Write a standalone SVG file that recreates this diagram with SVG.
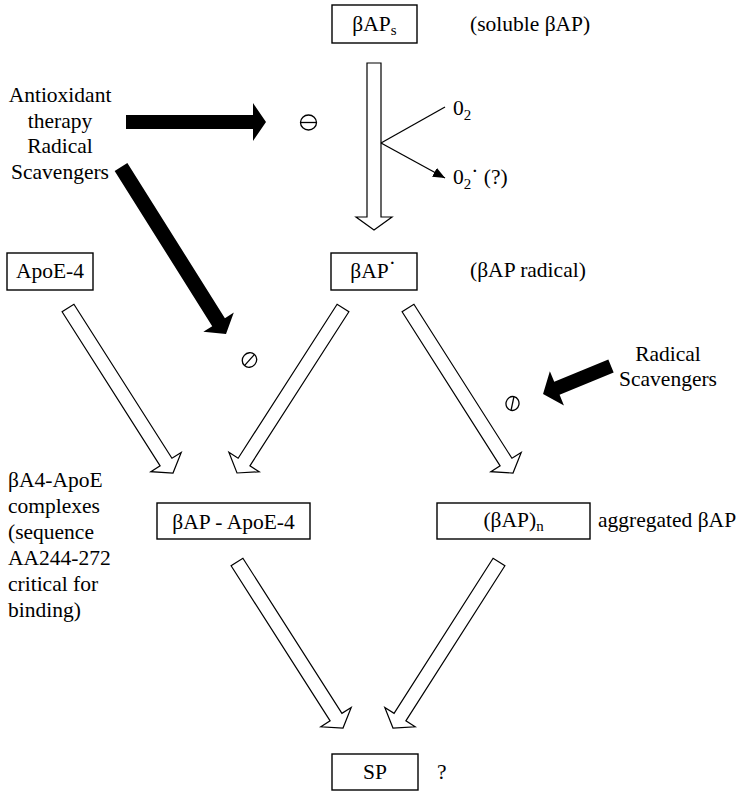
<svg xmlns="http://www.w3.org/2000/svg" width="740" height="791" viewBox="0 0 740 791">
<style>
text{font-family:"Liberation Serif","DejaVu Serif","Times New Roman",serif;font-size:21.5px;fill:#000}
.box{fill:#fff;stroke:#000;stroke-width:1.4}
.hollow{fill:#fff;stroke:#000;stroke-width:1.2;stroke-linejoin:miter}
.solid{fill:#000;stroke:none}
.inh{fill:none;stroke:#000;stroke-width:1.3}
.thin{fill:none;stroke:#000;stroke-width:1.3}
.sub{font-size:15px}
</style>
<defs>
<marker id="ah" viewBox="0 0 12 10" refX="12" refY="5" markerWidth="12" markerHeight="10" markerUnits="userSpaceOnUse" orient="auto">
<path d="M0,0 L12,5 L0,10 Z" fill="#000"/>
</marker>
</defs>
<rect width="740" height="791" fill="#fff"/>

<g id="connectors">
<polygon class="hollow" transform="translate(374,63) rotate(90)" points="0,-7 154,-7 154,-18 167,0 154,18 154,7 0,7"/>
<polygon class="hollow" transform="translate(68,308) rotate(57.53)" points="0,-7 182.6,-7 182.6,-18 195.6,0 182.6,18 182.6,7 0,7"/>
<polygon class="hollow" transform="translate(343,308) rotate(122.72)" points="0,-7 183.1,-7 183.1,-18 196.1,0 183.1,18 183.1,7 0,7"/>
<polygon class="hollow" transform="translate(408,308) rotate(57.53)" points="0,-7 182.6,-7 182.6,-18 195.6,0 182.6,18 182.6,7 0,7"/>
<polygon class="hollow" transform="translate(237,562) rotate(57.44)" points="0,-7 184,-7 184,-18 197,0 184,18 184,7 0,7"/>
<polygon class="hollow" transform="translate(499,562) rotate(122.56)" points="0,-7 184,-7 184,-18 197,0 184,18 184,7 0,7"/>
<polygon class="solid" points="126,115 253,115 253,103 266,122 253,141 253,129 126,129"/>
<polygon class="solid" transform="translate(121,167) rotate(57.84)" points="0,-7.5 183.3,-7.5 183.3,-18 197.3,0 183.3,18 183.3,7.5 0,7.5"/>
<polygon class="solid" transform="translate(611,366) rotate(157.6)" points="0,-7 58.5,-7 58.5,-18.5 73.5,0 58.5,18.5 58.5,7 0,7"/>
<line class="thin" x1="381" y1="143" x2="445" y2="107"/>
<line class="thin" x1="381" y1="143" x2="445" y2="178" marker-end="url(#ah)"/>
<g id="inh1" transform="translate(308.5,122.5)">
<ellipse class="inh" cx="0" cy="0" rx="8" ry="7.5"/>
<line class="inh" x1="-8" y1="0" x2="8" y2="0"/>
</g>
<g id="inh2" transform="translate(249.5,360) rotate(-48)">
<ellipse class="inh" cx="0" cy="0" rx="7.5" ry="7"/>
<line class="inh" x1="-7.5" y1="0" x2="7.5" y2="0"/>
</g>
<g id="inh3" transform="translate(512.5,403.5) rotate(-78)">
<ellipse class="inh" cx="0" cy="0" rx="7" ry="6.5"/>
<line class="inh" x1="-7" y1="0" x2="7" y2="0"/>
</g>
</g>

<g id="node-bAPs">
<rect class="box" x="332" y="5" width="85" height="38"/>
<text x="374.5" y="31" text-anchor="middle">βAP<tspan class="sub" dy="4">s</tspan></text>
</g>
<g id="label-soluble">
<text x="470" y="31">(soluble βAP)</text>
</g>

<g id="label-antioxidant">
<text x="60" y="102" text-anchor="middle">Antioxidant</text>
<text x="60" y="127.5" text-anchor="middle">therapy</text>
<text x="60" y="153" text-anchor="middle">Radical</text>
<text x="60" y="178.5" text-anchor="middle">Scavengers</text>
</g>

<g id="label-o2">
<text x="453" y="115">0<tspan class="sub" dy="5">2</tspan></text>
<text x="453" y="184">0<tspan class="sub" dy="5">2</tspan><tspan dy="-11">·</tspan><tspan dy="6"> (?)</tspan></text>
</g>

<g id="node-apoe4">
<rect class="box" x="7" y="253" width="86" height="37"/>
<text x="50" y="278" text-anchor="middle">ApoE-4</text>
</g>

<g id="node-bAPradical">
<rect class="box" x="331" y="253" width="86" height="37"/>
<text x="373" y="278" text-anchor="middle">βAP<tspan dy="-8">·</tspan></text>
</g>
<g id="label-radical">
<text x="470" y="277">(βAP radical)</text>
</g>

<g id="label-radical-scavengers">
<text x="668" y="361" text-anchor="middle">Radical</text>
<text x="668" y="386" text-anchor="middle">Scavengers</text>
</g>

<g id="label-complexes">
<text x="8" y="487">βA4-ApoE</text>
<text x="8" y="513">complexes</text>
<text x="8" y="539">(sequence</text>
<text x="8" y="565">AA244-272</text>
<text x="8" y="591">critical for</text>
<text x="8" y="617">binding)</text>
</g>

<g id="node-bAP-apoe4">
<rect class="box" x="157" y="503" width="153" height="36"/>
<text x="233.5" y="529" text-anchor="middle">βAP - ApoE-4</text>
</g>

<g id="node-bAPn">
<rect class="box" x="437" y="503" width="153" height="36"/>
<text x="513.5" y="527" text-anchor="middle">(βAP)<tspan class="sub" dy="4">n</tspan></text>
</g>
<g id="label-aggregated">
<text x="598" y="527">aggregated βAP</text>
</g>

<g id="node-sp">
<rect class="box" x="332" y="754" width="86" height="36"/>
<text x="375" y="779" text-anchor="middle">SP</text>
<text x="437" y="779">?</text>
</g>
</svg>
